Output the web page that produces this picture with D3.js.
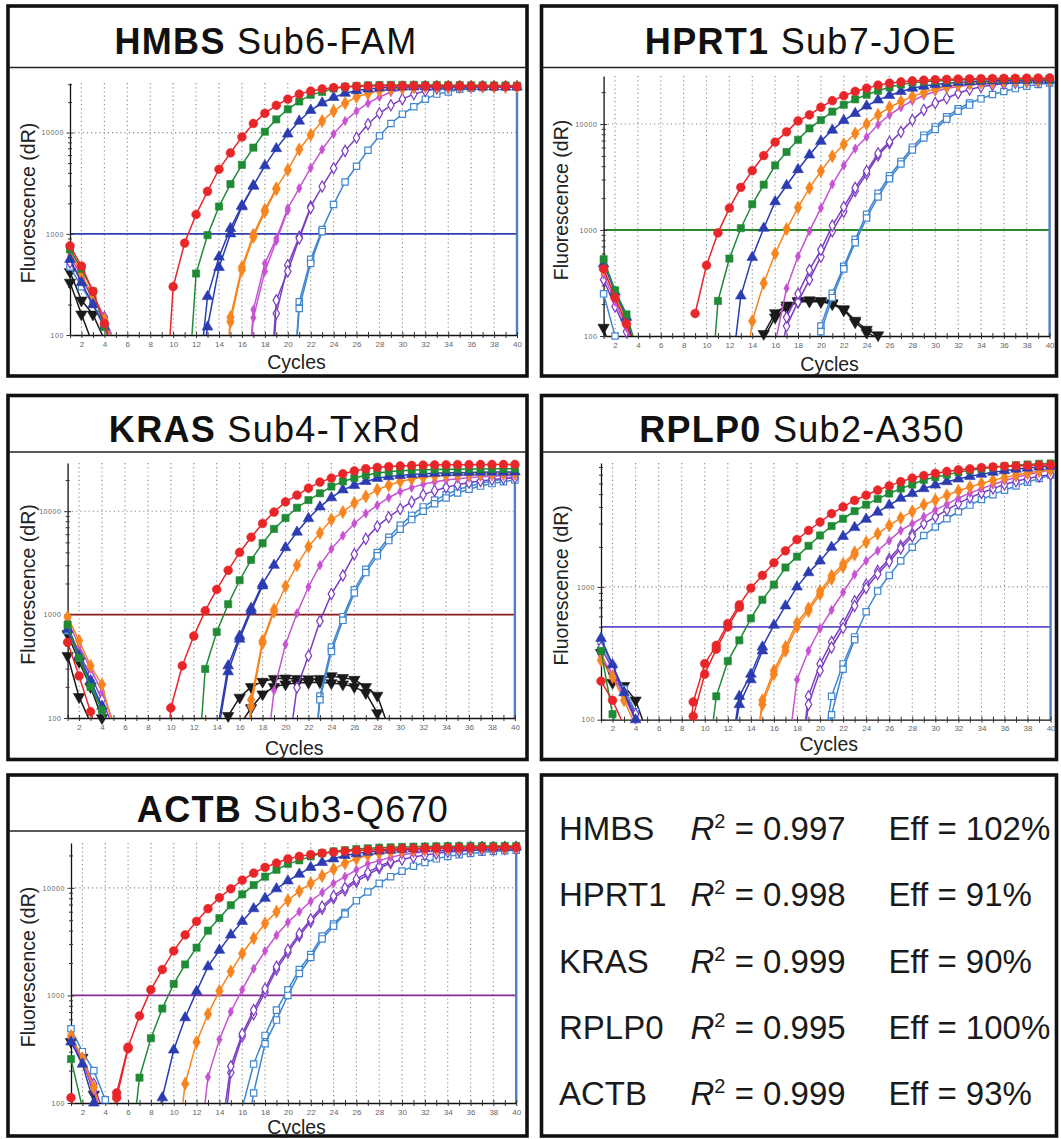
<!DOCTYPE html>
<html>
<head>
<meta charset="utf-8">
<script src="https://cdn.jsdelivr.net/npm/d3@7"></script>
<style>
  body { margin: 0; background: #fff; }
  svg { display: block; font-family: "Liberation Sans", Arial, Helvetica, sans-serif; }
</style>
</head>
<body>
<svg id="chart" width="1061" height="1139"></svg>
<script>
// ---- labels / summary values ----
const genes = ["HMBS", "HPRT1", "KRAS", "RPLP0", "ACTB"];
const dyes = ["Sub6-FAM", "Sub7-JOE", "Sub4-TxRd", "Sub2-A350", "Sub3-Q670"];
const thresholds = [1000, 1000, 1000, 500, 1000];
const yMax = [30900, 28400, 29250, 8570, 26100];
const decades = [100, 1000, 10000];
const r2 = ["0.997", "0.998", "0.999", "0.995", "0.999"];
const eff = ["102%", "91%", "90%", "100%", "93%"];

// amplification curves, one per dilution: [first cycle, values...]
const hmbsAmp = [
  [9, 5, 300, 810, 1550, 2630, 4340, 6300, 9050, 12300, 15500, 18600, 21400, 24000, 25700, 27000, 27800, 28300, 28600, 28800, 28900, 29000, 29000, 29000, 29000, 29000, 28900, 28900, 28800, 28800, 28700, 28700, 28600],
  [11, 8, 405, 970, 1860, 3100, 4800, 7100, 10200, 13500, 17000, 20300, 23600, 25200, 27300, 28300, 28900, 29300, 29500, 29600, 29600, 29600, 29500, 29500, 29400, 29400, 29300, 29300, 29200, 29200, 29100],
  [12, 20, 240, 590, 1130, 1900, 3000, 4700, 6950, 9700, 13000, 16600, 19600, 22300, 24500, 26000, 27000, 27600, 28000, 28200, 28300, 28400, 28400, 28400, 28400, 28300, 28300, 28300, 28200, 28200],
  [14, 5, 150, 470, 980, 1730, 2820, 4270, 6800, 9500, 13000, 16300, 19500, 22500, 24300, 26000, 27000, 27700, 28100, 28400, 28500, 28600, 28600, 28600, 28600, 28500, 28500, 28500],
  [16, 5, 178, 510, 900, 1790, 2820, 4480, 6800, 9700, 13000, 16300, 19500, 22500, 25200, 26500, 27300, 27800, 28000, 28200, 28300, 28300, 28300, 28300, 28300, 28300],
  [18, 5, 163, 490, 935, 1860, 2930, 4450, 6600, 8900, 12100, 15500, 18600, 21400, 24000, 25800, 27300, 27800, 28000, 28100, 28200, 28200, 28200, 28200],
  [20, 5, 213, 560, 1100, 1950, 3250, 4650, 6700, 9300, 12300, 15200, 18000, 21400, 24000, 25200, 26800, 27500, 27900, 28100, 28200, 28200]
];
const hprt1Amp = [
  [9, 163, 465, 940, 1610, 2530, 3630, 5040, 6750, 8440, 10700, 12200, 14400, 16600, 18500, 20300, 21800, 23300, 24300, 25000, 25500, 25900, 26200, 26400, 26600, 26700, 26800, 26900, 27000, 27000, 27100, 27100, 27200],
  [10, 8, 214, 538, 1040, 1750, 2680, 4070, 5450, 7100, 9100, 10900, 13100, 15200, 17100, 18900, 20600, 22200, 23600, 24500, 25100, 25500, 25800, 26000, 26200, 26300, 26400, 26500, 26600, 26600, 26700, 26700],
  [12, 30, 239, 553, 1040, 1850, 2630, 3720, 5110, 6880, 8770, 10800, 12600, 14800, 16900, 18600, 20300, 21800, 22800, 23600, 24200, 24700, 25000, 25300, 25500, 25700, 25800, 25900, 26000, 26000],
  [13, 20, 138, 315, 600, 1020, 1630, 2490, 3600, 4970, 6440, 8150, 10000, 12200, 14400, 16300, 18200, 19900, 21400, 22500, 23400, 24100, 24600, 25000, 25300, 25500, 25700, 25800, 25900],
  [16, 85, 282, 565, 975, 1610, 2700, 4070, 5860, 7560, 9900, 12200, 14400, 16600, 18600, 20300, 21600, 22600, 23400, 24000, 24400, 24800, 25100, 25300, 25500, 25600],
  [16, 40, 124, 210, 340, 560, 975, 1490, 2330, 3380, 5040, 6580, 8440, 10900, 13600, 15800, 17500, 19500, 21200, 22500, 23400, 24000, 24500, 24900, 25100, 25300],
  [19, 20, 124, 253, 454, 816, 1410, 2220, 3250, 4440, 6050, 7850, 9400, 11700, 13900, 15800, 17300, 19000, 20300, 21600, 22700, 23600, 24400]
];
const krasAmp = [
  [9, 5, 125, 320, 620, 1090, 1750, 2680, 3990, 5600, 7600, 9800, 12300, 14300, 16700, 19100, 20900, 23000, 24500, 25800, 26500, 27000, 27400, 27700, 27900, 28000, 28100, 28200, 28200, 28300, 28300, 28300, 28300],
  [12, 8, 298, 680, 1260, 2150, 3380, 4900, 6740, 8600, 10800, 12800, 14900, 17300, 19400, 20900, 22300, 23400, 24100, 24600, 24900, 25100, 25300, 25400, 25500, 25600, 25600, 25700, 25700, 25800],
  [14, 70, 320, 620, 1150, 1980, 3000, 4450, 6280, 8500, 11000, 13500, 16100, 17800, 19400, 20800, 21600, 22200, 22700, 23000, 23300, 23500, 23600, 23700, 23800, 23900, 23900, 24000],
  [16, 5, 130, 530, 1070, 1880, 3000, 4540, 6150, 8300, 9800, 12000, 13900, 16100, 17800, 19400, 20500, 21300, 21900, 22300, 22600, 22800, 23000, 23100, 23200, 23300],
  [18, 20, 185, 515, 1030, 1850, 3000, 4300, 5800, 7600, 9500, 11400, 13500, 15500, 16900, 18200, 19200, 20000, 20600, 21100, 21500, 21800, 22000, 22200],
  [20, 30, 197, 400, 865, 1580, 2390, 3830, 5400, 7130, 8750, 10500, 12300, 14400, 15800, 17000, 18000, 18900, 19600, 20200, 20700, 21100],
  [22, 10, 163, 485, 955, 1740, 2740, 3990, 5600, 7300, 9100, 11000, 12800, 14400, 16200, 17300, 18600, 19600, 20500, 21200]
];
const rplp0Amp = [
  [8, 20, 136, 264, 363, 530, 733, 980, 1220, 1520, 1870, 2270, 2660, 3080, 3560, 4000, 4480, 4900, 5360, 5760, 6200, 6600, 6900, 7150, 7400, 7600, 7750, 7900, 8000, 8100, 8150, 8200, 8250, 8300],
  [10, 30, 150, 276, 396, 580, 800, 1040, 1400, 1690, 2040, 2440, 2870, 3260, 3720, 4160, 4600, 5050, 5500, 5900, 6400, 6700, 7000, 7300, 7550, 7750, 7950, 8100, 8250, 8350, 8450, 8500],
  [12, 40, 150, 220, 353, 515, 720, 1000, 1280, 1570, 1990, 2400, 2800, 3240, 3660, 4130, 4650, 5050, 5500, 5850, 6200, 6500, 6800, 7050, 7300, 7500, 7700, 7850, 8000, 8100],
  [14, 30, 140, 234, 353, 537, 690, 930, 1210, 1490, 1820, 2170, 2510, 2900, 3300, 3700, 4160, 4500, 4900, 5300, 5650, 6000, 6350, 6650, 6950, 7200, 7450, 7600],
  [17, 40, 200, 330, 486, 670, 910, 1240, 1570, 1870, 2230, 2660, 2990, 3370, 3790, 4200, 4650, 5100, 5500, 5900, 6300, 6700, 7000, 7300, 7600],
  [18, 30, 150, 263, 385, 530, 780, 1040, 1320, 1620, 2040, 2510, 2990, 3370, 3800, 4250, 4700, 5100, 5500, 5900, 6250, 6550, 6800, 7000],
  [20, 40, 150, 263, 420, 650, 930, 1220, 1570, 1990, 2440, 2830, 3260, 3680, 4130, 4550, 4950, 5350, 5750, 6150, 6550, 6950]
];
const actbAmp = [
  [4, 20, 124, 330, 645, 1130, 1740, 2590, 3650, 4880, 6400, 8100, 9800, 11800, 13700, 15500, 17000, 18600, 19600, 20400, 21000, 21500, 21900, 22200, 22500, 22700, 22900, 23100, 23200, 23300, 23400, 23500, 23600, 23600, 23700, 23700, 23800, 23800],
  [6, 20, 172, 400, 755, 1280, 1940, 2780, 4000, 5230, 6900, 8700, 10600, 12700, 14700, 16700, 18000, 19600, 21000, 21800, 22400, 22900, 23300, 23600, 23800, 24000, 24100, 24200, 24300, 24400, 24400, 24500, 24500, 24500, 24500, 24500],
  [8, 40, 112, 311, 620, 1090, 1850, 2630, 3650, 4880, 6400, 8000, 9800, 11600, 13400, 15500, 17200, 18600, 20000, 20800, 21500, 22000, 22400, 22700, 23000, 23200, 23400, 23500, 23600, 23700, 23800, 23800, 23900, 23900],
  [10, 20, 151, 368, 670, 1100, 1670, 2450, 3400, 4680, 6000, 7650, 9300, 11000, 12900, 14900, 16900, 18600, 20100, 21000, 21700, 22200, 22600, 22900, 23100, 23300, 23400, 23500, 23600, 23700, 23700, 23800],
  [12, 20, 174, 390, 705, 1130, 1770, 2590, 3620, 4790, 6000, 7500, 9050, 11000, 12700, 14700, 16700, 17900, 19200, 20300, 21000, 21600, 22000, 22400, 22700, 22900, 23100, 23200, 23300, 23400],
  [14, 20, 192, 415, 670, 1070, 1740, 2500, 3570, 4850, 6400, 8000, 9500, 11400, 13200, 15200, 17000, 18300, 19300, 20200, 20900, 21500, 21900, 22300, 22600, 22800, 23000, 23100],
  [16, 90, 230, 425, 730, 1130, 1740, 2400, 3570, 4600, 5900, 7600, 9150, 11000, 12700, 14300, 15900, 17200, 18600, 19600, 20300, 20900, 21400, 21800, 22100, 22400]
];

// second replicates where they separate: [series, first cycle, values...]
const hmbsRep = [
  [2, 12, 20, 120, 465, 1000, 1850, 2950],
  [3, 14, 5, 135, 440, 930, 1650, 2750],
  [4, 16, 5, 148, 425, 850, 1700],
  [5, 18, 5, 220, 425, 900, 1800],
  [6, 20, 5, 183, 510, 1050]
];
const hprt1Rep = [
  [5, 17, 150, 250, 420, 650, 1100, 1650, 2500, 3600, 5300, 6800],
  [6, 19, 30, 110, 230, 430, 760, 1300, 2050, 3050, 4200, 5700, 7400, 8900, 11100, 13200, 15100]
];
const krasRep = [
  [2, 14, 60, 280, 580, 1080, 1900],
  [3, 16, 5, 150, 560, 1120],
  [6, 22, 10, 150, 440, 880, 1620, 2550, 3700, 5200, 6700, 8300, 10000, 11800, 13400, 15000, 16300, 17500, 18500, 19300, 20000]
];
const rplp0Rep = [
  [0, 8, 30, 106, 220, 340, 500, 700],
  [2, 12, 40, 130, 200, 330],
  [3, 14, 30, 130, 220, 330, 500, 660, 880, 1150, 1420, 1750],
  [5, 18, 30, 130, 234, 350, 490, 720, 980, 1250, 1550, 1950, 2400],
  [6, 20, 40, 109, 240, 400]
];
const actbRep = [
  [0, 4, 30, 112, 320],
  [5, 14, 40, 220, 440, 730, 1150, 1850, 2650, 3750, 5100, 6700, 8400, 10000, 12000, 13900, 15900, 17600],
  [6, 16, 30, 124, 355, 590, 1000, 1600, 2250, 3350, 4400, 5700]
];

// early-cycle baseline traces from cycle 1: [series, values...]
const hmbsBase = [
  [0, 760, 480, 270, 130, 60], [1, 700, 450, 270, 120, 60], [2, 560, 330, 200, 120, 60],
  [3, 680, 400, 240, 140, 70], [4, 600, 380, 250, 150, 80], [5, 520, 360, 230, 150, 70],
  [6, 470, 300, 200, 130, 80], [7, 420, 220, 160, 90], [7, 330, 160, 80]
];
const hprt1Base = [
  [0, 430, 230, 130, 60], [1, 530, 270, 160, 70], [2, 480, 260, 150, 60],
  [3, 420, 240, 140, 60], [4, 380, 210, 120, 50], [5, 340, 190, 110, 50],
  [6, 250, 100, 50], [7, 120, 50]
];
const krasBase = [
  [0, 540, 255, 115, 50], [1, 800, 380, 200, 120, 60], [2, 720, 400, 230, 130, 60],
  [3, 950, 560, 320, 210, 80], [4, 880, 500, 300, 180, 90], [5, 780, 420, 260, 150, 80],
  [6, 700, 380, 220, 120, 60], [7, 400, 160, 90], [7, 650, 350, 200, 100, 50]
];
const rplp0Base = [
  [0, 195, 140, 90], [1, 330, 110, 60], [2, 410, 260, 160, 100, 60],
  [3, 280, 210, 140, 90], [4, 300, 220, 150, 100, 60], [5, 350, 240, 160, 110, 70],
  [6, 390, 250, 170, 115, 70], [7, 320, 190, 180, 140, 80]
];
const actbBase = [
  [0, 112, 40], [1, 256, 90, 40], [2, 370, 230, 100, 50],
  [3, 420, 260, 140, 60], [4, 380, 240, 130, 60], [5, 400, 260, 150, 70],
  [6, 490, 300, 200, 107, 60], [7, 370, 265, 120, 50]
];

// no-template controls: [series, first cycle, values...]
const hmbsNtc = [];
const hprt1Ntc = [
  [7, 14, 70, 105, 165, 195, 215, 218, 215, 205, 180, 140, 115, 102, 70],
  [7, 14, 60, 95, 150, 185, 210, 212, 210, 200, 175, 135, 108, 95, 60]
];
const krasNtc = [
  [7, 14, 60, 105, 158, 200, 225, 240, 242, 240, 238, 240, 255, 245, 235, 200, 165, 80],
  [7, 15, 60, 85, 125, 170, 200, 212, 218, 220, 222, 218, 212, 200, 175, 112, 50]
];
const rplp0Ntc = [];
const actbNtc = [];

const allAmp = [hmbsAmp, hprt1Amp, krasAmp, rplp0Amp, actbAmp];
const allRep = [hmbsRep, hprt1Rep, krasRep, rplp0Rep, actbRep];
const allBase = [hmbsBase, hprt1Base, krasBase, rplp0Base, actbBase];
const allNtc = [hmbsNtc, hprt1Ntc, krasNtc, rplp0Ntc, actbNtc];

// ---- styles / layout ----
const styles = [
  {color: "#e8262a", sym: d3.symbolCircle, size: 60, fill: true},
  {color: "#1f8b34", sym: d3.symbolSquare, size: 52, fill: true},
  {color: "#2b3cb2", sym: d3.symbolTriangle, size: 50, fill: true},
  {color: "#f7841f", sym: d3.symbolDiamond, size: 50, fill: true},
  {color: "#c653d2", sym: d3.symbolDiamond, size: 26, fill: true},
  {color: "#7b3dc2", sym: d3.symbolDiamond, size: 36, fill: false},
  {color: "#3f87d0", sym: d3.symbolSquare, size: 40, fill: false},
  {color: "#1a1a1a", sym: d3.symbolTriangle, size: 56, fill: true, flip: true}
];
const thresholdColors = ["#3040b0", "#2a8a2a", "#8b1c1c", "#5b4fd0", "#8a2e96"];

const frames = [
  {x: 8, y: 6, w: 519, h: 370, sep: 67.5, tx: 266, ty: 54},
  {x: 541.5, y: 6, w: 515, h: 370, sep: 67.5, tx: 801, ty: 54},
  {x: 8, y: 395.5, w: 519, h: 364, sep: 452, tx: 265, ty: 442},
  {x: 541.5, y: 395.5, w: 515, h: 364, sep: 452, tx: 802, ty: 442},
  {x: 8, y: 775, w: 519, h: 361, sep: 831, tx: 293, ty: 822}
];
const tableFrame = {x: 541.5, y: 775, w: 515, h: 361};
const plots = [
  {l: 70, r: 517, b: 335, t: 83, cy: 369},
  {l: 603.6, r: 1049.6, b: 336, t: 76, cy: 371},
  {l: 67.6, r: 514.9, b: 718, t: 463, cy: 755},
  {l: 601, r: 1050.6, b: 719.7, t: 463, cy: 751},
  {l: 71, r: 516.2, b: 1103, t: 843, cy: 1134}
];

const svg = d3.select("#chart");
svg.append("rect").attr("width", 1061).attr("height", 1139).attr("fill", "#fff");

function drawPanel(p) {
  const f = frames[p], b = plots[p];
  const x = d3.scaleLinear().domain([1, 40]).range([b.l, b.r]);
  const y = d3.scaleLog().domain([100, yMax[p]]).range([b.b, b.t]);
  const g = svg.append("g");

  g.append("rect")
    .attr("x", f.x).attr("y", f.y).attr("width", f.w).attr("height", f.h)
    .attr("fill", "#fff").attr("stroke", "#111").attr("stroke-width", 3.6);
  g.append("line")
    .attr("x1", f.x).attr("x2", f.x + f.w).attr("y1", f.sep).attr("y2", f.sep)
    .attr("stroke", "#222").attr("stroke-width", 1.6);

  const title = g.append("text")
    .attr("x", f.tx).attr("y", f.ty)
    .attr("text-anchor", "middle").attr("font-size", 36)
    .attr("letter-spacing", 1.3).attr("fill", "#111");
  title.append("tspan").attr("font-weight", "bold").text(genes[p]);
  title.append("tspan").text(" " + dyes[p]);

  // dotted grid
  g.append("g").selectAll("line")
    .data(d3.range(2, 40, 2))
    .join("line")
    .attr("x1", d => x(d)).attr("x2", d => x(d))
    .attr("y1", b.t).attr("y2", b.b)
    .attr("stroke", "#8a8a8a").attr("stroke-width", 1.1)
    .attr("stroke-dasharray", "1.2,3");
  g.append("g").selectAll("line")
    .data(decades.filter(d => d > 100 && d < yMax[p]))
    .join("line")
    .attr("x1", b.l).attr("x2", b.r)
    .attr("y1", d => y(d)).attr("y2", d => y(d))
    .attr("stroke", "#8a8a8a").attr("stroke-width", 1.1)
    .attr("stroke-dasharray", "1.2,3");

  // threshold
  g.append("line")
    .attr("x1", b.l).attr("x2", b.r)
    .attr("y1", y(thresholds[p])).attr("y2", y(thresholds[p]))
    .attr("stroke", thresholdColors[p]).attr("stroke-width", 1.8);

  // end-of-run marker
  g.append("line")
    .attr("x1", x(40)).attr("x2", x(40)).attr("y1", b.t).attr("y2", b.b)
    .attr("stroke", "#4f7fc6").attr("stroke-width", 2.4);

  // axes
  const gx = g.append("g").attr("transform", `translate(0,${b.b})`)
    .call(d3.axisBottom(x).tickValues(d3.range(1, 41)).tickSizeInner(3).tickSizeOuter(0)
      .tickPadding(3).tickFormat(d => d % 2 === 0 ? d : ""));
  gx.attr("font-family", null).attr("font-size", 8);
  gx.select(".domain").attr("stroke", "#111").attr("stroke-width", 1.3);
  gx.selectAll(".tick line").attr("y1", -3).attr("y2", 3).attr("stroke", "#333");
  gx.selectAll(".tick text").attr("fill", "#666");

  const gy = g.append("g").attr("transform", `translate(${b.l},0)`)
    .call(d3.axisLeft(y).tickValues(y.ticks()).tickSizeInner(3).tickSizeOuter(0)
      .tickPadding(3).tickFormat(d => decades.includes(d) ? String(d) : ""));
  gy.attr("font-family", null).attr("font-size", 7);
  gy.select(".domain").attr("stroke", "#111").attr("stroke-width", 1.3);
  gy.selectAll(".tick line")
    .attr("x1", d => decades.includes(d) ? 3.5 : 2)
    .attr("x2", d => decades.includes(d) ? -3.5 : -2)
    .attr("stroke", "#333");
  gy.selectAll(".tick text").attr("fill", "#666").attr("letter-spacing", 0.6);

  g.append("text")
    .attr("transform", `translate(${f.x + 20},${(b.t + b.b) / 2 - 6}) rotate(-90)`)
    .attr("text-anchor", "middle").attr("dy", "0.35em")
    .attr("font-size", 19.5).attr("fill", "#222")
    .text("Fluorescence (dR)");
  g.append("text")
    .attr("x", (b.l + b.r) / 2 + 3).attr("y", b.cy)
    .attr("text-anchor", "middle").attr("font-size", 19.5).attr("fill", "#222")
    .text("Cycles");

  // curves
  const clipId = "clip" + p;
  g.append("clipPath").attr("id", clipId)
    .append("rect").attr("x", b.l - 10).attr("y", b.t - 20)
    .attr("width", b.r - b.l + 20).attr("height", b.b - b.t + 20);

  const curves = [];
  allAmp[p].forEach((a, i) => curves.push({s: i, pts: a.slice(1).map((v, k) => [a[0] + k, v])}));
  allRep[p].forEach(r => curves.push({s: r[0], pts: r.slice(2).map((v, k) => [r[1] + k, v])}));
  allBase[p].forEach(r => curves.push({s: r[0], pts: r.slice(1).map((v, k) => [1 + k, v])}));
  allNtc[p].forEach(r => curves.push({s: r[0], pts: r.slice(2).map((v, k) => [r[1] + k, v])}));
  // black first, red last (on top)
  curves.sort((a, c) => c.s - a.s);

  const line = d3.line().x(d => x(d[0])).y(d => y(d[1]));
  const cg = g.append("g");
  curves.forEach(c => {
    const st = styles[c.s];
    const sg = cg.append("g");
    sg.append("path")
      .attr("d", line(c.pts))
      .attr("clip-path", `url(#${clipId})`)
      .attr("fill", "none").attr("stroke", st.color).attr("stroke-width", 1.5);
    sg.selectAll("path.m")
      .data(c.pts.filter(d => d[1] >= 100))
      .join("path")
      .attr("class", "m")
      .attr("d", d3.symbol(st.sym, st.size))
      .attr("transform", d => `translate(${x(d[0])},${y(d[1])})` + (st.flip ? " rotate(180)" : ""))
      .attr("fill", st.fill ? st.color : "#fff")
      .attr("stroke", st.color)
      .attr("stroke-width", st.fill ? 0.6 : 1.2);
  });
}

d3.range(5).forEach(drawPanel);

// summary table
const tg = svg.append("g");
tg.append("rect")
  .attr("x", tableFrame.x).attr("y", tableFrame.y)
  .attr("width", tableFrame.w).attr("height", tableFrame.h)
  .attr("fill", "#fff").attr("stroke", "#111").attr("stroke-width", 3.6);

genes.forEach((gene, i) => {
  const yy = tableFrame.y + 65 + i * 66.3;
  tg.append("text").attr("x", 559).attr("y", yy)
    .attr("font-size", 33).attr("fill", "#1a1a1a").text(gene);
  const t = tg.append("text").attr("x", 690.5).attr("y", yy)
    .attr("font-size", 33).attr("fill", "#1a1a1a");
  t.append("tspan").attr("font-style", "italic").text("R");
  t.append("tspan").attr("font-size", 20).attr("dy", -12).text("2");
  t.append("tspan").attr("dy", 12).text(" = " + r2[i]);
  tg.append("text").attr("x", 888.5).attr("y", yy)
    .attr("font-size", 33).attr("fill", "#1a1a1a").text("Eff = " + eff[i]);
});
</script>
</body>
</html>
